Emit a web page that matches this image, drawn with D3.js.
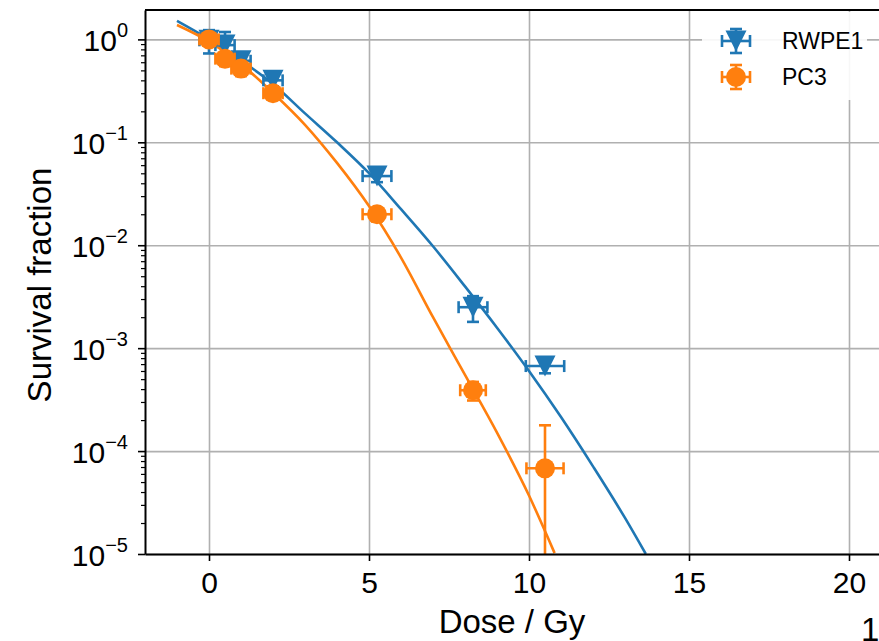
<!DOCTYPE html>
<html>
<head>
<meta charset="utf-8">
<script src="https://cdn.jsdelivr.net/npm/d3@7"></script>
<style>
  body { margin: 0; background: #fff; }
  text { font-family: "Liberation Sans", Arial, sans-serif; fill: #000; }
</style>
</head>
<body>
<script>
// measured points
var doses = [0, 0.5, 1, 2, 5.25, 8.25, 10.5];
var rwpe1 = [0.98, 0.88, 0.62, 0.40, 0.047, 0.0025, 0.00067];
var rwpe1YErr = [0.25, 0.3, 0.1, 0.05, 0.006, 0.0007, 0.0001];
var rwpe1XErr = [0.3, 0.3, 0.3, 0.3, 0.45, 0.45, 0.6];
var pc3 = [1.0, 0.65, 0.52, 0.30, 0.020, 0.00039, 0.000068];
var pc3YErr = [0.1, 0.1, 0.08, 0.04, 0.003, 0.00008, 0.00011];
var pc3XErr = [0.3, 0.3, 0.3, 0.3, 0.45, 0.4, 0.58];

// fitted curves
var fitDoseRwpe1 = [-1, 0, 1, 2, 3, 4, 5, 6, 7, 8, 9, 10, 11, 12, 13, 13.65];
var fitRwpe1 = [1.51, 1.0, 0.625, 0.369, 0.191, 0.100, 0.0501, 0.0224, 0.00977, 0.00398, 0.00158, 0.00060, 0.000214, 0.000071, 0.0000224, 0.00001];
var fitDosePc3 = [-1, 0, 1, 2, 3, 4, 5, 6, 7, 8, 9, 10, 10.8];
var fitPc3 = [1.38, 0.955, 0.575, 0.302, 0.148, 0.0631, 0.024, 0.00759, 0.0020, 0.00055, 0.000151, 0.000037, 0.0000102];

var xTicks = [0, 5, 10, 15, 20];
var yTicks = [1, 0.1, 0.01, 0.001, 0.0001, 0.00001];
var yTickExp = ["0", "\u22121", "\u22122", "\u22123", "\u22124", "\u22125"];

var blue = "#1f77b4", orange = "#ff7f0e";
var W = 879, H = 641;
var pL = 145, pR = 881, pT = 10, pB = 554;

var x = d3.scaleLinear().domain([-2, 21]).range([pL, pR]);
var y = d3.scaleLog().domain([1e-5, 1.93]).range([pB, pT]);

var svg = d3.select("body").append("svg")
    .attr("width", W)
    .attr("height", H);

svg.append("defs").append("clipPath").attr("id", "plot")
    .append("rect")
    .attr("x", pL).attr("y", pT)
    .attr("width", pR - pL).attr("height", pB - pT);

// grid
svg.append("g")
    .attr("transform", `translate(0,${pB})`)
    .call(d3.axisBottom(x).tickValues(xTicks).tickSize(-(pB - pT)).tickFormat(""))
    .call(g => g.select(".domain").remove())
    .selectAll("line").attr("stroke", "#b0b0b0").attr("stroke-width", 1.6);
svg.append("g")
    .attr("transform", `translate(${pL},0)`)
    .call(d3.axisLeft(y).tickValues(yTicks).tickSize(-(pR - pL)).tickFormat(""))
    .call(g => g.select(".domain").remove())
    .selectAll("line").attr("stroke", "#b0b0b0").attr("stroke-width", 1.6);

var plot = svg.append("g").attr("clip-path", "url(#plot)");

var line = d3.line()
    .x(d => x(d[0]))
    .y(d => y(d[1]))
    .curve(d3.curveMonotoneX);

plot.append("path")
    .datum(fitDoseRwpe1.map((d, i) => [d, fitRwpe1[i]]))
    .attr("d", line)
    .attr("fill", "none").attr("stroke", blue).attr("stroke-width", 2.6);
plot.append("path")
    .datum(fitDosePc3.map((d, i) => [d, fitPc3[i]]))
    .attr("d", line)
    .attr("fill", "none").attr("stroke", orange).attr("stroke-width", 2.6);

var cap = 6;

function errorBars(g, vals, yErr, xErr, color) {
    var pts = doses.map((d, i) => ({
        x: d, y: vals[i], ex: xErr[i],
        lo: vals[i] - yErr[i] > 0 ? vals[i] - yErr[i] : 1e-7,
        hi: vals[i] + yErr[i]
    }));
    var e = g.append("g").attr("stroke", color).attr("stroke-width", 2.6).attr("fill", "none");
    pts.forEach(p => {
        var cx = x(p.x), cy = y(p.y);
        var x0 = x(p.x - p.ex), x1 = x(p.x + p.ex);
        var y0 = y(p.lo), y1 = y(p.hi);
        e.append("line").attr("x1", cx).attr("x2", cx).attr("y1", y0).attr("y2", y1);
        e.append("line").attr("x1", x0).attr("x2", x1).attr("y1", cy).attr("y2", cy);
        e.append("line").attr("x1", cx - cap).attr("x2", cx + cap).attr("y1", y1).attr("y2", y1);
        if (p.lo > 1e-7)
            e.append("line").attr("x1", cx - cap).attr("x2", cx + cap).attr("y1", y0).attr("y2", y0);
        e.append("line").attr("x1", x0).attr("x2", x0).attr("y1", cy - cap).attr("y2", cy + cap);
        e.append("line").attr("x1", x1).attr("x2", x1).attr("y1", cy - cap).attr("y2", cy + cap);
    });
    return pts;
}

var tri = (cx, cy, s) => `M${cx},${cy + s}L${cx - s},${cy - s}L${cx + s},${cy - s}Z`;

var ptsB = errorBars(plot, rwpe1, rwpe1YErr, rwpe1XErr, blue);
plot.selectAll(".tri").data(ptsB).enter().append("path")
    .attr("d", d => tri(x(d.x), y(d.y), 10.5))
    .attr("fill", blue);

var ptsO = errorBars(plot, pc3, pc3YErr, pc3XErr, orange);
plot.selectAll(".dot").data(ptsO).enter().append("circle")
    .attr("cx", d => x(d.x)).attr("cy", d => y(d.y)).attr("r", 10)
    .attr("fill", orange);

// axes
var xAxis = svg.append("g")
    .attr("transform", `translate(0,${pB})`)
    .call(d3.axisBottom(x).tickValues(xTicks).tickSize(7).tickSizeOuter(0).tickPadding(11));
xAxis.select(".domain").attr("stroke", "#000").attr("stroke-width", 2);
xAxis.selectAll("line").attr("stroke", "#000").attr("stroke-width", 1.6);
xAxis.selectAll("text").attr("font-size", 30).attr("font-family", "Liberation Sans, Arial, sans-serif").attr("fill", "#000");

var minor = [];
[-5, -4, -3, -2, -1, 0].forEach(k => {
    for (var m = 2; m <= 9; m++) {
        var v = m * Math.pow(10, k);
        if (v <= 1.93) minor.push(v);
    }
});
var yMinor = svg.append("g")
    .attr("transform", `translate(${pL},0)`)
    .call(d3.axisLeft(y).tickValues(minor).tickSize(4).tickFormat(""));
yMinor.select(".domain").remove();
yMinor.selectAll("line").attr("stroke", "#000").attr("stroke-width", 1.2);

var yAxis = svg.append("g")
    .attr("transform", `translate(${pL},0)`)
    .call(d3.axisLeft(y).tickValues(yTicks).tickSize(7).tickSizeOuter(0).tickFormat(""));
yAxis.select(".domain").attr("stroke", "#000").attr("stroke-width", 2);
yAxis.selectAll("line").attr("stroke", "#000").attr("stroke-width", 1.6);

var yLabels = svg.append("g").selectAll("text").data(yTicks).enter().append("text")
    .attr("x", 128)
    .attr("y", d => y(d) + 12)
    .attr("text-anchor", "end")
    .attr("font-size", 30);
yLabels.append("tspan").text("10");
yLabels.append("tspan").attr("dy", -14).attr("font-size", 20).text((d, i) => yTickExp[i]);

// top spine
svg.append("line")
    .attr("x1", pL).attr("x2", W).attr("y1", pT).attr("y2", pT)
    .attr("stroke", "#000").attr("stroke-width", 2);

// axis titles
svg.append("text")
    .attr("x", 512).attr("y", 633)
    .attr("text-anchor", "middle").attr("font-size", 33)
    .text("Dose / Gy");
svg.append("text")
    .attr("transform", "translate(51,285) rotate(-90)")
    .attr("text-anchor", "middle").attr("font-size", 33)
    .text("Survival fraction");
svg.append("text")
    .attr("x", 861).attr("y", 641).attr("font-size", 33)
    .text("1");

// legend
var legend = svg.append("g");
legend.append("rect")
    .attr("x", 702).attr("y", 12).attr("width", 165).attr("height", 88).attr("rx", 4)
    .attr("fill", "#fff").attr("fill-opacity", 0.9);
var items = [
    { name: "RWPE1", color: blue, shape: "tri", cy: 41 },
    { name: "PC3", color: orange, shape: "dot", cy: 77 }
];
items.forEach(it => {
    var cx = 736;
    var g = legend.append("g").attr("stroke", it.color).attr("stroke-width", 2.6);
    g.append("line").attr("x1", cx - 14).attr("x2", cx + 14).attr("y1", it.cy).attr("y2", it.cy);
    g.append("line").attr("x1", cx).attr("x2", cx).attr("y1", it.cy - 12).attr("y2", it.cy + 12);
    g.append("line").attr("x1", cx - 14).attr("x2", cx - 14).attr("y1", it.cy - cap).attr("y2", it.cy + cap);
    g.append("line").attr("x1", cx + 14).attr("x2", cx + 14).attr("y1", it.cy - cap).attr("y2", it.cy + cap);
    g.append("line").attr("x1", cx - cap).attr("x2", cx + cap).attr("y1", it.cy - 12).attr("y2", it.cy - 12);
    g.append("line").attr("x1", cx - cap).attr("x2", cx + cap).attr("y1", it.cy + 12).attr("y2", it.cy + 12);
    if (it.shape === "tri")
        legend.append("path").attr("d", tri(cx, it.cy, 10.5)).attr("fill", it.color);
    else
        legend.append("circle").attr("cx", cx).attr("cy", it.cy).attr("r", 10).attr("fill", it.color);
    legend.append("text")
        .attr("x", 782).attr("y", it.cy + 8)
        .attr("font-size", 23)
        .text(it.name);
});
</script>
</body>
</html>
